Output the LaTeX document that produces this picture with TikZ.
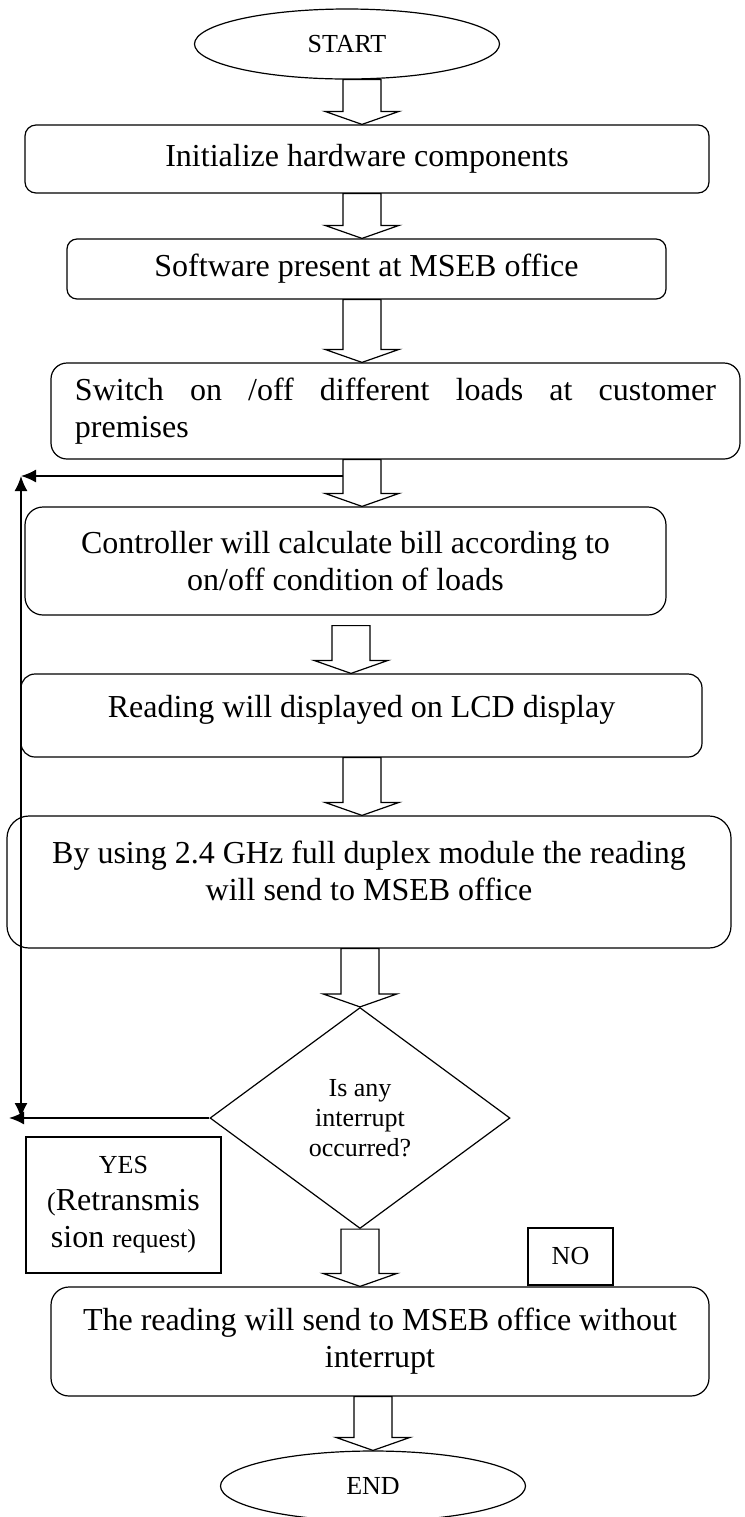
\documentclass[tikz,border=0pt]{standalone}
\usepackage{fontspec}
\setmainfont{Liberation Serif}
\usepackage{tikz}
\usetikzlibrary{shapes.geometric,arrows.meta,calc}

\newcommand{\smalltext}{\fontsize{13}{15}\selectfont}
\newcommand{\bigtext}{\fontsize{16}{18.5}\selectfont}
% text set higher than the box centre: {raise}{lines}
\newcommand{\uptext}[2]{\raisebox{#1}[\height][\depth]{\begin{tabular}{@{}c@{}}#2\end{tabular}}}

% hollow block arrow: [gap]{axis x}{from anchor}{to anchor}
\newcommand{\blockarrow}[4][0]{%
  \draw[hollowarrow] ($({#2-19},0 |- #3)+(0,#1)$) -- ($({#2-19},0 |- #4)+(0,-13)$)
    -- ($({#2-37},0 |- #4)+(0,-13)$) -- ({#2},0 |- #4)
    -- ($({#2+37},0 |- #4)+(0,-13)$) -- ($({#2+19},0 |- #4)+(0,-13)$)
    -- ($({#2+19},0 |- #3)+(0,#1)$) -- cycle;}

\tikzset{
  procbox/.style={draw, line width=0.6pt, rounded corners=#1, align=center, inner sep=0pt, font=\bigtext},
  procbox/.default=6pt,
  terminal/.style={draw, ellipse, line width=0.6pt, inner sep=0pt, minimum width=152.5pt, minimum height=35pt, font=\smalltext},
  decision/.style={draw, diamond, line width=0.6pt, inner sep=0pt, align=center, minimum width=150pt, minimum height=110.5pt, font=\smalltext},
  tagbox/.style={draw, line width=0.6pt, inner sep=0pt, align=center},
  hollowarrow/.style={draw, line width=0.6pt, fill=white},
  feedback/.style={line width=0.85pt},
  tip/.tip={Latex[length=7.5pt,width=6.5pt]}
}

\begin{document}
\begin{tikzpicture}[x=0.5pt, y=-0.5pt]
    \useasboundingbox (0,0) rectangle (745,1517);

    % Steps
    \node[terminal] (start) at (347,44) {START};
    \node[procbox=5.5pt, minimum width=342pt, minimum height=34pt] (init) at (367,159) {Initialize hardware components};
    \node[procbox=5pt, minimum width=299.5pt, minimum height=30pt] (soft) at (366.5,269) {Software present at MSEB office};
    \node[procbox=8pt, align=justify, text width=320.5pt, inner xsep=12pt, minimum height=48pt] (switch) at (395.5,411)
        {Switch on /off different loads at customer\linebreak premises};
    \node[procbox=9pt, minimum width=320.5pt, minimum height=54pt] (ctrl) at (345.5,561)
        {Controller will calculate bill according to\\on/off condition of loads};
    \node[procbox=7pt, minimum width=340.5pt, minimum height=41.5pt] (lcd) at (361.5,715.5)
        {\uptext{2.5pt}{Reading will displayed on LCD display}};
    \node[procbox=11pt, minimum width=362pt, minimum height=66pt] (send) at (369,882)
        {\uptext{3.5pt}{By using 2.4 GHz full duplex module the reading\\will send to MSEB office}};
    \node[decision] (check) at (360,1118) {Is any\\interrupt\\occurred?};
    \node[procbox=9pt, minimum width=329pt, minimum height=54.5pt] (final) at (380,1341.5)
        {The reading will send to MSEB office without\\interrupt};
    \node[terminal] (end) at (373,1486) {END};

    % Answer tags
    \node[tagbox, minimum width=97.5pt, minimum height=68pt, font=\bigtext] (yes) at (123.5,1205)
        {{\smalltext YES}\\{\smalltext(}Retransmis\\sion {\smalltext request)}};
    \node[tagbox, minimum width=42.5pt, minimum height=28.5pt, font=\smalltext] (no) at (570.5,1256.5) {NO};

    % Block arrows
    \blockarrow{362}{start.south}{init.north}
    \blockarrow{362}{init.south}{soft.north}
    \blockarrow{362}{soft.south}{switch.north}
    \blockarrow{362}{switch.south}{ctrl.north}
    \blockarrow[10]{351}{ctrl.south}{lcd.north}
    \blockarrow{362}{lcd.south}{send.north}
    \blockarrow{360}{send.south}{check.north}
    \blockarrow{360}{check.south}{final.north}
    \blockarrow{373}{final.south}{end.north}

    % Retransmission loop
    \coordinate (fbstart) at (343,476);
    \coordinate (fbtop) at (21,476);
    \coordinate (fbbot) at (21,1118);
    \coordinate (fbleft) at (9,1118);
    \draw[feedback, -tip] (fbstart) -- (fbtop);
    \draw[feedback, tip-tip] (fbbot) -- (fbtop);
    \draw[feedback, -tip] (check.west) -- (fbleft);
\end{tikzpicture}
\end{document}
